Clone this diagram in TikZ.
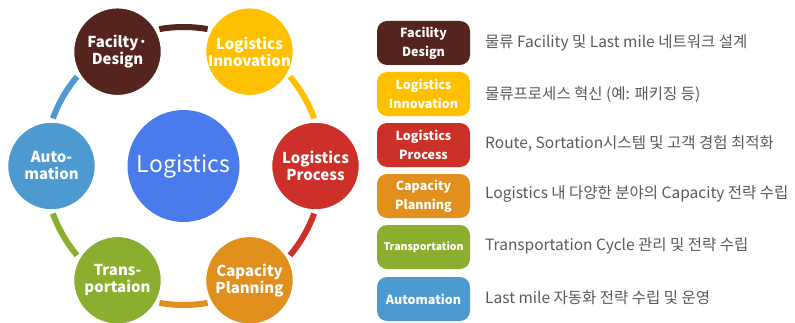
\documentclass[tikz,border=0pt]{standalone}
\usepackage{fontspec}
\setmainfont{Noto Sans CJK KR}
\usetikzlibrary{positioning}
\definecolor{cbrown}{HTML}{56241F}
\definecolor{cyellow}{HTML}{FFC000}
\definecolor{cred}{HTML}{CD2F29}
\definecolor{corange}{HTML}{E2901D}
\definecolor{cgreen}{HTML}{8CAE2F}
\definecolor{cblue}{HTML}{4C9AD0}
\definecolor{chub}{HTML}{4A7BEB}
\definecolor{cdesc}{HTML}{5A5A5A}
\tikzset{
  ball/.style={circle, minimum size=88pt, inner sep=0pt, fill=#1, draw=white, line width=1.5pt,
    text=white, align=center, font=\bfseries\fontsize{15}{17}\selectfont},
  ring/.style={line width=6pt, draw=#1},
  tag/.style={rectangle, rounded corners=10pt, minimum width=93pt, minimum height=44pt, inner sep=0pt,
    fill=#1, text=white, align=center, font=\bfseries\fontsize{12.5}{19}\selectfont},
  desc/.style={anchor=west, text=cdesc, inner sep=0pt, font=\fontsize{15.5}{17}\selectfont}
}
\begin{document}
\begin{tikzpicture}[x=1pt,y=1pt]
\useasboundingbox (0,0) rectangle (795,322);
\clip (0,0) rectangle (795,322);
\node[circle, minimum size=112pt, inner sep=0pt, fill=chub, text=white, font=\fontsize{23}{25}\selectfont] (hub) at (183.5,156) {Logistics};
% ring arcs
\draw[ring=cbrown]  ([shift={(100:139)}]hub.center) arc[start angle=100, end angle=80, radius=139];
\draw[ring=cyellow] ([shift={(40:139)}]hub.center) arc[start angle=40, end angle=20, radius=139];
\draw[ring=cred]    ([shift={(-20:139)}]hub.center) arc[start angle=-20, end angle=-40, radius=139];
\draw[ring=corange] ([shift={(-80:139)}]hub.center) arc[start angle=-80, end angle=-100, radius=139];
\draw[ring=cgreen]  ([shift={(220:139)}]hub.center) arc[start angle=220, end angle=200, radius=139];
\draw[ring=cblue]   ([shift={(160:139)}]hub.center) arc[start angle=160, end angle=140, radius=139];
% circles
\node[ball=cbrown]  (fac) at ([shift={(120:132)}]hub.center) {Facilty·\\Design};
\node[ball=cyellow] (inn) at ([shift={(60:132)}]hub.center) {Logistics\\Innovation};
\node[ball=cred]    (pro) at ([shift={(0:132)}]hub.center) {Logistics\\Process};
\node[ball=corange] (cap) at ([shift={(-60:132)}]hub.center) {Capacity\\Planning};
\node[ball=cgreen]  (tra) at ([shift={(-120:132)}]hub.center) {Trans-\\portaion};
\node[ball=cblue]   (aut) at ([shift={(180:132)}]hub.center) {Auto-\\mation};
% legend
\node[tag=cbrown]  (t1) at (423.5,279) {Facility\\Design};
\node[tag=cyellow] (t2) at (423.5,228) {Logistics\\Innovation};
\node[tag=cred]    (t3) at (423.5,177) {Logistics\\Process};
\node[tag=corange] (t4) at (423.5,126) {Capacity\\Planning};
\node[tag=cgreen]  (t5) at (423.5,75) {\resizebox{80pt}{!}{Transportation}};
\node[tag=cblue]   (t6) at (423.5,23) {Automation};
\node[desc] (d1) at (485,279) {물류 Facility 및 Last mile 네트워크 설계};
\node[desc] (d2) at (485,227) {물류프로세스 혁신 (예: 패키징 등)};
\node[desc] (d3) at (485,178) {Route, Sortation시스템 및 고객 경험 최적화};
\node[desc] (d4) at (485,128) {Logistics 내 다양한 분야의 Capacity 전략 수립};
\node[desc] (d5) at (485,76) {Transportation Cycle 관리 및 전략 수립};
\node[desc] (d6) at (485,24) {Last mile 자동화 전략 수립 및 운영};
\end{tikzpicture}
\end{document}
